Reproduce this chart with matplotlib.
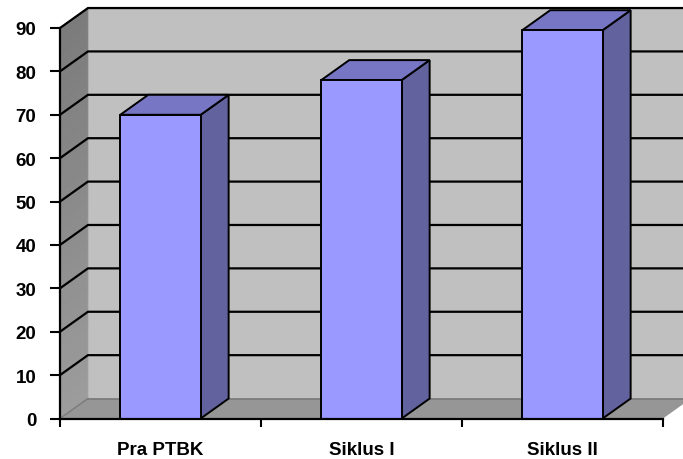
import matplotlib
matplotlib.use("Agg")
import matplotlib.pyplot as plt
import numpy as np
from matplotlib.patches import Polygon

# data
categories = ["Pra PTBK", "Siklus I", "Siklus II"]
values = [70, 78, 89.5]
yticks = [0, 10, 20, 30, 40, 50, 60, 70, 80, 90]

# 3d look (offset of the back plane, in data units)
dx = 0.139
dy = 4.6
half = 0.2

front_col = "#9999FF"
side_col = "#62629F"
top_col = "#7676C4"

plt.rcParams["font.family"] = ["Liberation Sans", "DejaVu Sans"]

fig = plt.figure(figsize=(6.83, 4.60), dpi=100)
ax = fig.add_axes([60 / 683, 40.5 / 460, 603 / 683, 390.5 / 460])
n = len(categories)
ymax = yticks[-1]
ax.set_xlim(0, n)
ax.set_ylim(0, ymax)


def poly(pts, fc, z, ec="none", lw=0):
    p = Polygon(pts, closed=True, facecolor=fc, edgecolor=ec,
                linewidth=lw, zorder=z, clip_on=False, joinstyle="miter")
    ax.add_patch(p)
    return p


# back wall
poly([(dx, dy), (n + dx, dy), (n + dx, ymax + dy), (dx, ymax + dy)], "#C0C0C0", 1)

# left wall, shaded darker towards the top
edges = np.linspace(0, ymax, 41)
for a, b in zip(edges[:-1], edges[1:]):
    g = 0.61 - 0.13 * (a / ymax)
    poly([(0, a), (dx, a + dy), (dx, b + dy), (0, b)], (g, g, g), 1.2, (g, g, g), 0.5)

# floor
poly([(0, 0), (n, 0), (n + dx, dy), (dx, dy)], "#969696", 1.5)
ax.plot([dx, n + dx], [dy, dy], color="#7a7a7a", lw=1.2, zorder=1.6, clip_on=False)
ax.plot([0, dx], [0, dy], color="#7a7a7a", lw=1, zorder=1.6, clip_on=False)

# gridlines on the back and left wall
for v in yticks[1:]:
    ax.plot([0, dx, n + dx], [v, v + dy, v + dy], color="black", lw=1.6,
            zorder=2, clip_on=False, solid_joinstyle="miter")

# bars
for i, v in enumerate(values):
    c = i + 0.5
    x0, x1 = c - half, c + half
    poly([(x1, 0), (x1 + dx, dy), (x1 + dx, v + dy), (x1, v)], side_col, 3, "black", 1.4)
    poly([(x0, v), (x1, v), (x1 + dx, v + dy), (x0 + dx, v + dy)], top_col, 3, "black", 1.4)
    poly([(x0, 0), (x1, 0), (x1, v), (x0, v)], front_col, 4, "black", 1.4)

# axes
for s in ["top", "right"]:
    ax.spines[s].set_visible(False)
ax.spines["left"].set_linewidth(1.6)
ax.spines["bottom"].set_linewidth(1.6)
ax.spines["left"].set_zorder(5)
ax.spines["bottom"].set_zorder(5)
ax.set_yticks(yticks)
ax.set_yticklabels([str(t) for t in yticks], fontsize=13.5, fontweight="bold")
ax.tick_params(axis="y", direction="out", length=7, width=1.5, pad=10)
ax.set_xticks(range(n + 1))
ax.set_xticklabels([])
ax.tick_params(axis="x", which="major", direction="out", length=6, width=1.5)
ax.set_xticks([i + 0.5 for i in range(n)], minor=True)
ax.set_xticklabels(categories, minor=True, fontsize=13.5, fontweight="bold")
ax.tick_params(axis="x", which="minor", length=0, pad=16)
ax.set_facecolor("none")

fig.savefig("out.png", dpi=100)
